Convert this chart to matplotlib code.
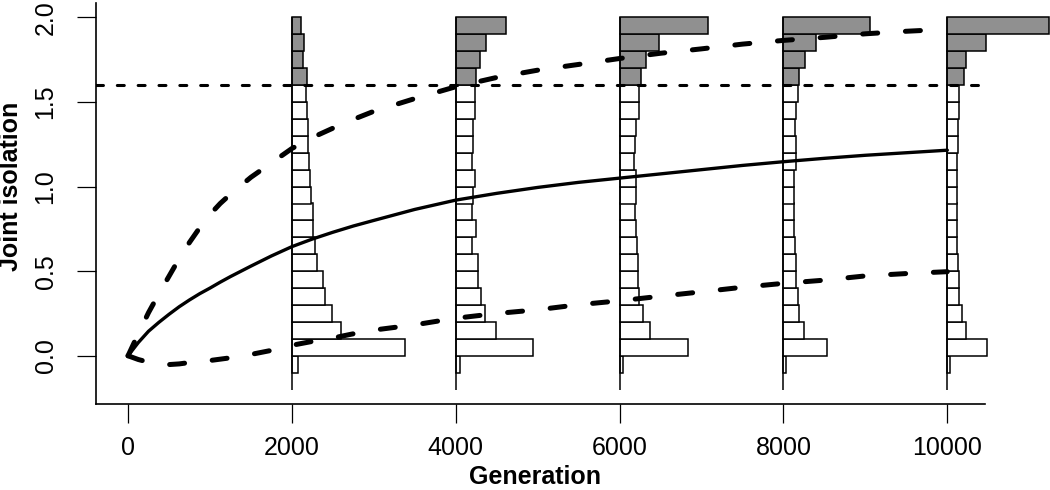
import numpy as np
import matplotlib
matplotlib.use("Agg")
import matplotlib.pyplot as plt

plt.rcParams['font.family'] = ['Liberation Sans', 'DejaVu Sans']
plt.rcParams['lines.scale_dashes'] = False

# histogram bins (lower edges), width 0.1
bin_lows = [-0.1, 0.0, 0.1, 0.2, 0.3, 0.4, 0.5, 0.6, 0.7, 0.8, 0.9,
            1.0, 1.1, 1.2, 1.3, 1.4, 1.5, 1.6, 1.7, 1.8, 1.9]
threshold = 1.6

# bar lengths (in generation units), bottom bin to top bin
hist_gens = [2000, 4000, 6000, 8000, 10000]
hist_2000 = [73, 1384, 594, 488, 399, 379, 305, 277, 252, 252, 236,
             220, 208, 191, 191, 187, 171, 183, 134, 151, 106]
hist_4000 = [57, 944, 497, 362, 313, 273, 273, 204, 244, 204, 212,
             232, 204, 208, 216, 240, 232, 244, 293, 366, 619]
hist_6000 = [41, 834, 366, 289, 236, 228, 220, 208, 204, 183, 195,
             204, 175, 183, 204, 236, 236, 256, 317, 480, 1083]
hist_8000 = [28, 537, 252, 191, 183, 159, 151, 142, 134, 134, 130,
             134, 151, 159, 142, 159, 183, 191, 260, 403, 1054]
hist_10000 = [33, 480, 228, 175, 147, 147, 126, 122, 122, 114, 114,
              114, 122, 134, 134, 142, 147, 204, 228, 472, 1237]
hists = [hist_2000, hist_4000, hist_6000, hist_8000, hist_10000]

# mean and upper / lower curves
gen = [0, 125, 250, 375, 500, 625, 750, 875, 1000, 1125, 1250, 1500, 1750,
       2000, 2250, 2500, 2750, 3000, 3500, 4000, 4500, 5000, 5500, 6000,
       6500, 7000, 7500, 8000, 8500, 9000, 9500, 10000]
mean_iso = [0, 0.078, 0.145, 0.197, 0.245, 0.29, 0.33, 0.367, 0.40, 0.435,
            0.468, 0.53, 0.59, 0.645, 0.69, 0.73, 0.767, 0.80, 0.865, 0.92,
            0.96, 0.995, 1.025, 1.05, 1.075, 1.10, 1.125, 1.147, 1.167,
            1.185, 1.20, 1.215]
upper_iso = [0, 0.13, 0.255, 0.365, 0.47, 0.575, 0.67, 0.757, 0.835, 0.9,
             0.955, 1.055, 1.14, 1.225, 1.29, 1.345, 1.397, 1.445, 1.52,
             1.59, 1.645, 1.688, 1.722, 1.757, 1.788, 1.814, 1.842, 1.864,
             1.882, 1.903, 1.918, 1.93]
lower_iso = [0, -0.022, -0.038, -0.048, -0.052, -0.048, -0.04, -0.034,
             -0.028, -0.02, -0.012, 0.008, 0.032, 0.062, 0.085, 0.105, 0.13,
             0.152, 0.183, 0.222, 0.25, 0.272, 0.302, 0.325, 0.352, 0.378,
             0.405, 0.428, 0.447, 0.472, 0.486, 0.497]

fig = plt.figure(figsize=(10.5, 4.9), dpi=100)
ax = fig.add_axes([96 / 1050, 86 / 490, 889 / 1050, 401 / 490])

# horizontal histograms at each generation
centers = np.array(bin_lows) + 0.05
for g, h in zip(hist_gens, hists):
    colors = ['#909090' if b >= threshold - 1e-9 else 'white' for b in bin_lows]
    ax.barh(centers, h, height=0.1, left=g, color=colors,
            edgecolor='black', linewidth=1.1, clip_on=False, zorder=2)
    ax.vlines(g, -0.2, 2.0, color='black', linewidth=1.1, zorder=3)

ax.axhline(threshold, color='black', linewidth=2.2, dashes=(5, 10),
           dash_capstyle='round', zorder=4)

ax.plot(gen, mean_iso, color='black', linewidth=2.4, zorder=5,
        solid_capstyle='round', solid_joinstyle='round')
ax.plot(gen, upper_iso, color='black', linewidth=3.6, dashes=(10.8, 20),
        dash_capstyle='round', zorder=5)
ax.plot(gen, lower_iso, color='black', linewidth=3.6, dashes=(10.8, 20),
        dash_capstyle='round', zorder=5)

ax.set_xlim(-391, 10460)
ax.set_ylim(-0.285, 2.085)

ax.spines['top'].set_visible(False)
ax.spines['right'].set_visible(False)
ax.spines['left'].set_linewidth(1.2)
ax.spines['bottom'].set_linewidth(1.2)

ax.set_xticks([0, 2000, 4000, 6000, 8000, 10000])
ax.set_xticklabels(['0', '2000', '4000', '6000', '8000', '10000'])
ax.set_yticks([0.0, 0.5, 1.0, 1.5, 2.0])
ax.set_yticklabels(['0.0', '0.5', '1.0', '1.5', '2.0'], rotation=90,
                   va='center')
ax.tick_params(axis='both', direction='out', length=13.7, width=0.9,
               labelsize=18)
ax.tick_params(axis='x', pad=9)
ax.tick_params(axis='y', pad=14)

ax.set_xlabel('Generation', fontsize=18, fontweight='bold')
ax.xaxis.set_label_coords(0.4938, -0.152)
ax.set_ylabel('Joint isolation', fontsize=18, fontweight='bold', va='center')
ax.yaxis.set_label_coords(-0.0956, 0.5436)

fig.savefig('out.png', dpi=100)
